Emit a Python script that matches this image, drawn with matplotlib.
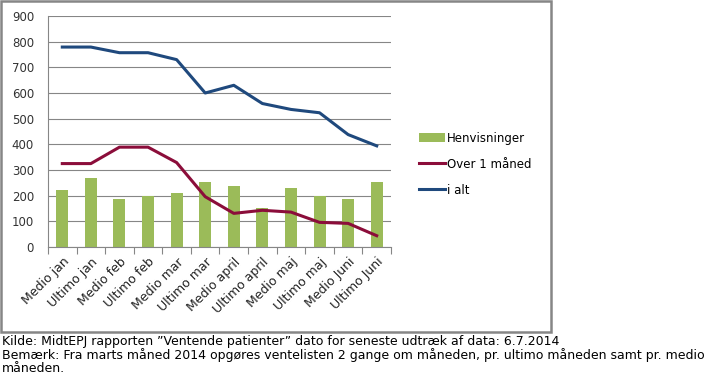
import matplotlib
matplotlib.use("Agg")
import matplotlib.pyplot as plt
from matplotlib.patches import Rectangle
import numpy as np

categories = ["Medio jan", "Ultimo jan", "Medio feb", "Ultimo feb", "Medio mar",
              "Ultimo mar", "Medio april", "Ultimo april", "Medio maj", "Ultimo maj",
              "Medio Juni", "Ultimo Juni"]
henvisninger = [222, 268, 187, 198, 210, 253, 237, 152, 230, 198, 187, 253]
over_1_maaned = [325, 325, 389, 389, 329, 196, 131, 143, 136, 96, 92, 44]
i_alt = [779, 779, 757, 757, 730, 600, 630, 559, 536, 523, 438, 394]
y_ticks = [0, 100, 200, 300, 400, 500, 600, 700, 800, 900]

plt.rcParams['font.family'] = ['DejaVu Sans']

W, H = 716, 384
fig = plt.figure(figsize=(W / 100, H / 100), dpi=100)

# outer chart border
fig.add_artist(Rectangle((1 / W, 1 - 332 / H), 550 / W, 331 / H,
                         transform=fig.transFigure, fill=False,
                         edgecolor="#868686", linewidth=1.8))

ax = fig.add_axes([48 / W, 1 - 247 / H, 343 / W, 231 / H])
x = np.arange(len(categories))
bars = ax.bar(x, henvisninger, width=0.42, color="#9BBB59", label="Henvisninger", zorder=2)
red_line, = ax.plot(x, over_1_maaned, color="#8B0D3A", linewidth=2.2, label="Over 1 måned", zorder=3)
blue_line, = ax.plot(x, i_alt, color="#1F497D", linewidth=2.2, label="i alt", zorder=3)

ax.set_xlim(-0.5, len(categories) - 0.5)
ax.set_ylim(0, 900)
ax.set_yticks(y_ticks)
ax.yaxis.grid(True, color="#868686", linewidth=0.8, zorder=0)
ax.set_axisbelow(True)
for s in ["top", "right"]:
    ax.spines[s].set_visible(False)
ax.spines["left"].set_color("#868686")
ax.spines["bottom"].set_color("#868686")
ax.tick_params(axis="y", length=0, labelsize=8.5, labelcolor="#333333", pad=10)
ax.set_xticks(np.arange(len(categories) + 1) - 0.5, minor=False)
ax.set_xticklabels([])
ax.set_xticks(x, minor=True)
ax.set_xticklabels(categories, minor=True, rotation=45, ha="right",
                   rotation_mode="anchor", fontsize=9, color="#222222")
ax.tick_params(axis="x", which="major", length=5, color="#868686", direction="out")
ax.tick_params(axis="x", which="minor", length=0, pad=6)

fig.legend([bars, red_line, blue_line], ["Henvisninger", "Over 1 måned", "i alt"],
           loc="upper left", bbox_to_anchor=(408 / W, 1 - 121 / H),
           frameon=False, fontsize=8.5, handlelength=2.2, handletextpad=0.2,
           labelspacing=1.1)

fig.text(2 / W, 1 - 341 / H,
         "Kilde: MidtEPJ rapporten ”Ventende patienter” dato for seneste udtræk af data: 6.7.2014",
         fontsize=9, va="center", ha="left")
fig.text(2 / W, 1 - 355 / H,
         "Bemærk: Fra marts måned 2014 opgøres ventelisten 2 gange om måneden, pr. ultimo måneden samt pr. medio",
         fontsize=9, va="center", ha="left")
fig.text(2 / W, 1 - 369 / H, "måneden.", fontsize=9, va="center", ha="left")

fig.savefig("out.png", dpi=100)
